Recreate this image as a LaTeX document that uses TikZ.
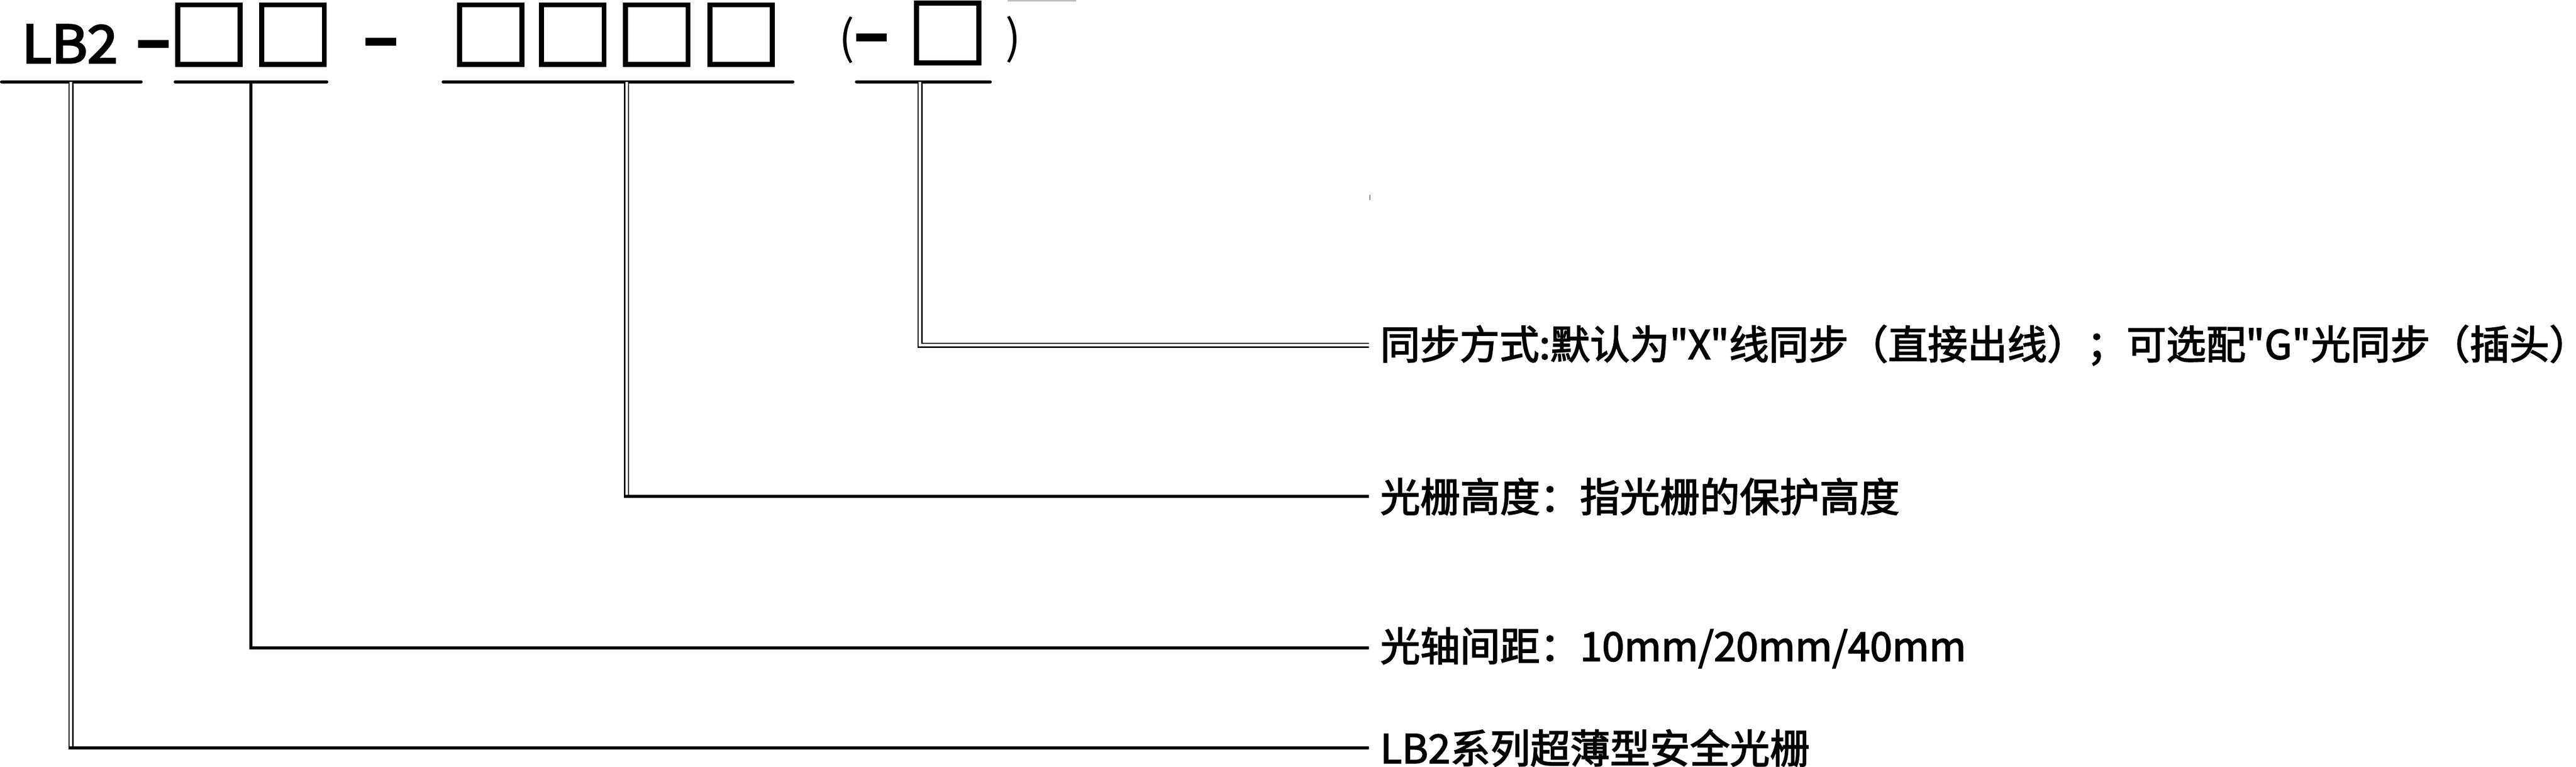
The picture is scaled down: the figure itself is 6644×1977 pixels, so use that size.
\documentclass[tikz,border=0pt]{standalone}
\usepackage{fontspec}
\newfontfamily\cjk{Noto Sans CJK SC}[FakeBold=2.5]
\newfontfamily\cjkcode{Noto Sans CJK SC}[FakeBold=3.5]
\newfontfamily\cjkreg{Noto Sans CJK SC}
\newfontfamily\dashfont{Noto Sans CJK SC}[FakeBold=12.6]
\usepackage{graphicx}
\begin{document}
\begin{tikzpicture}[x=0.2pt,y=-0.2pt,
  box/.style={draw, line width=2.6pt, inner sep=0pt, minimum width=32.2pt, minimum height=30.8pt},
  uline/.style={line width=1.6pt, line cap=round},
  sgl/.style={line width=1.6pt},
  thk/.style={line width=1.7pt},
  dbl/.style={double, line width=0.6pt, double distance=1.4pt},
  desc/.style={anchor=west, inner sep=0pt, font=\cjk\fontsize{20.6pt}{24pt}\selectfont},
  code/.style={inner sep=0pt, font=\cjkcode},
  dashtxt/.style={inner sep=0pt, anchor=base, font=\dashfont\fontsize{20.6pt}{24pt}\selectfont},
  paren/.style={inner sep=0pt, font=\cjkreg\fontsize{23.8pt}{28pt}\selectfont}
]
\useasboundingbox (0,0) rectangle (6644,1977);
% code line
\node[code, anchor=base west] (lb) at (55.6,162) {\fontsize{26.8pt}{30pt}\selectfont\scalebox{1.05}[1]{LB2}};
\node[dashtxt] (h1) at (395.5,142) {\scalebox{2}[1]{-}};
\node[box] (b1) at (539,89.5) {};
\node[box] (b2) at (756,89.5) {};
\node[dashtxt] (h2) at (982,136.5) {\scalebox{2}[1]{-}};
\node[box] (b3) at (1265.5,89.5) {};
\node[box] (b4) at (1477.5,89.5) {};
\node[box] (b5) at (1694,89.5) {};
\node[box] (b6) at (1911.5,89.5) {};
\node[paren] (lp) at (2184,103) {(};
\node[dashtxt] (h3) at (2247.5,125.5) {\scalebox{2}[1]{-}};
\node[box] (b7) at (2444.5,85) {};
\node[paren] (rp) at (2613,102) {)};
% underlines
\draw[uline] (4,211) -- (364,211);
\draw[uline] (452,211) -- (843,211);
\draw[uline] (1143,211) -- (2045,211);
\draw[uline] (2209,211) -- (2554,211);
\coordinate (c1) at (183,211);
\coordinate (c2) at (647,211);
\coordinate (c3) at (1616,211);
\coordinate (c4) at (2373,211);
% descriptions
\node[desc, font=\cjk\fontsize{20.5pt}{24pt}\selectfont] (d1) at (3559,890) {同步方式:默认为"X"线同步（直接出线）；可选配"G"光同步（插头）};
\node[desc] (d2) at (3559,1280) {光栅高度：指光栅的保护高度};
\node[desc] (d3) at (3559,1670) {光轴间距：10mm/20mm/40mm};
\node[desc] (d4) at (3559,1928) {LB2系列超薄型安全光栅};
% connectors
\coordinate (k1) at (c1 |- d4.west);
\coordinate (k2) at (c2 |- d3.west);
\coordinate (k3) at (c3 |- d2.west);
\draw[dbl] (c1) -- (k1);
\draw[sgl] ([xshift=-1.3pt]k1) -- ([xshift=-5.8pt]d4.west);
\draw[thk] (c2) -- (k2);
\draw[sgl] ([xshift=-0.85pt]k2) -- ([xshift=-5.8pt]d3.west);
\draw[dbl] (c3) -- (k3);
\draw[sgl] ([xshift=-1.3pt]k3) -- ([xshift=-5.8pt]d2.west);
\draw[dbl] (c4) |- ([xshift=-5.8pt]d1.west);
% small marks
\draw[gray!50, line width=0.6pt] (2599,2) -- (2776,2);
\draw[gray, line width=0.4pt] (3533,502) -- (3533,516);
\end{tikzpicture}
\end{document}
